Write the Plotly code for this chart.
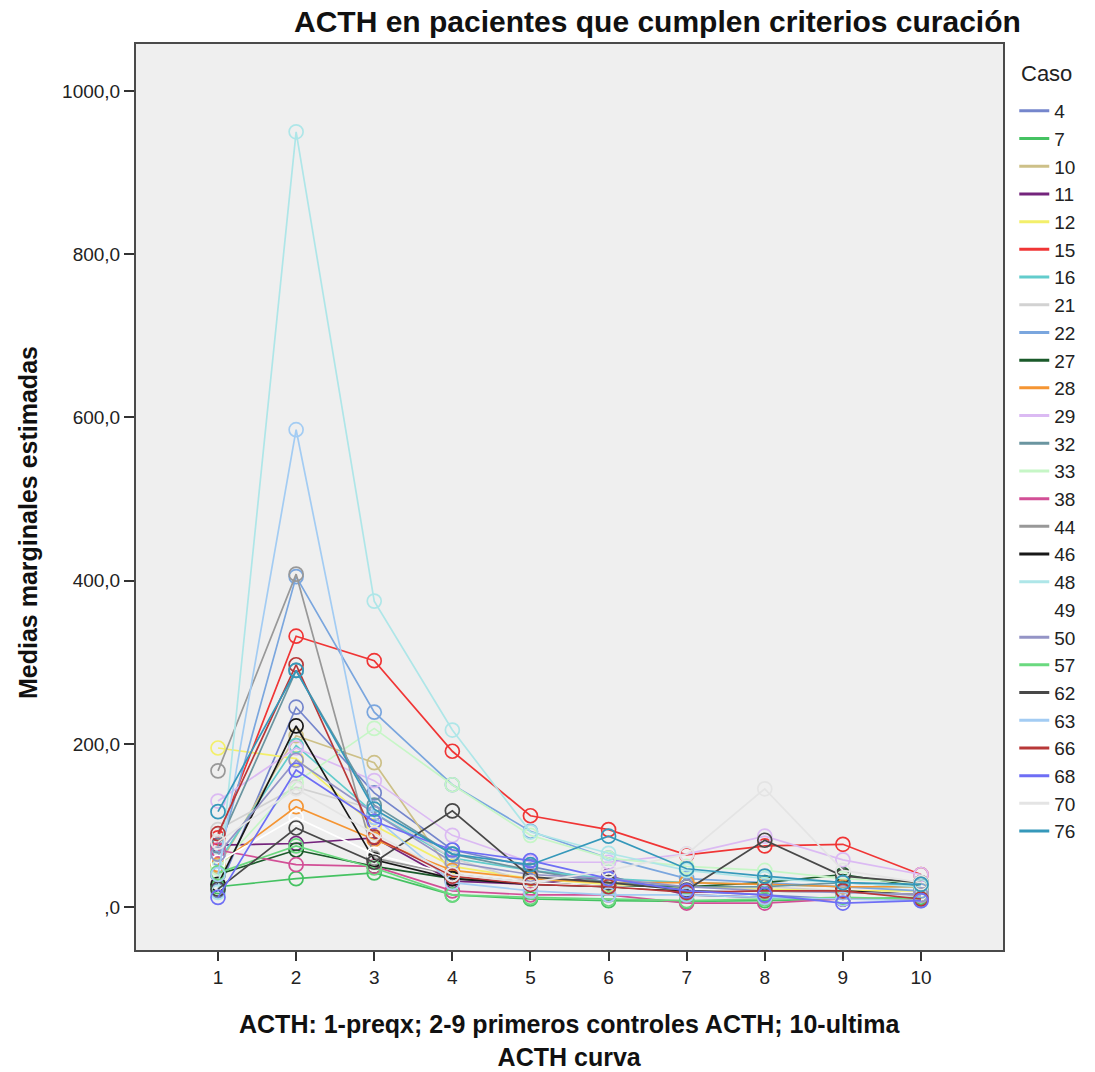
import plotly.graph_objects as go

# Measurement index on the x axis (1 = pre-surgery, 2-9 first controls, 10 = last)
puntos = [1, 2, 3, 4, 5, 6, 7, 8, 9, 10]

# Estimated marginal means of ACTH per patient (case)
caso_4 = [20, 245, 140, 70, 50, 30, 20, 15, 10, 10]
caso_7 = [25, 35, 42, 15, 10, 8, 7, 8, 10, 12]
caso_10 = [50, 210, 177, 40, 30, 25, 20, 20, 18, 15]
caso_11 = [76, 78, 85, 32, 28, 38, 15, 12, 10, 10]
caso_12 = [195, 182, 100, 50, 35, 28, 25, 22, 20, 20]
caso_15 = [85, 332, 302, 191, 112, 95, 64, 75, 77, 40]
caso_16 = [55, 198, 115, 60, 45, 35, 30, 28, 25, 25]
caso_21 = [95, 147, 120, 60, 30, 25, 20, 25, 20, 15]
caso_22 = [60, 405, 239, 150, 93, 60, 35, 30, 25, 20]
caso_27 = [40, 70, 50, 35, 30, 25, 25, 30, 40, 25]
caso_28 = [52, 123, 83, 45, 35, 30, 30, 28, 25, 25]
caso_29 = [130, 195, 155, 88, 55, 55, 65, 87, 58, 40]
caso_32 = [75, 290, 125, 65, 45, 30, 25, 25, 30, 25]
caso_33 = [48, 153, 219, 150, 88, 60, 50, 45, 35, 30]
caso_38 = [70, 52, 50, 20, 15, 15, 5, 5, 10, 10]
caso_44 = [167, 408, 60, 40, 30, 25, 20, 20, 18, 15]
caso_46 = [28, 222, 58, 35, 28, 25, 20, 20, 20, 15]
caso_48 = [18, 950, 375, 217, 92, 66, 45, 35, 30, 25]
caso_49 = [55, 110, 65, 40, 30, 25, 22, 20, 18, 15]
caso_50 = [65, 180, 115, 55, 40, 35, 25, 20, 18, 15]
caso_57 = [42, 75, 48, 15, 12, 10, 8, 10, 12, 10]
caso_62 = [22, 97, 55, 118, 37, 30, 21, 82, 38, 30]
caso_63 = [40, 585, 110, 30, 20, 15, 15, 12, 10, 8]
caso_66 = [90, 297, 86, 38, 28, 25, 18, 20, 20, 10]
caso_68 = [12, 168, 105, 70, 57, 35, 20, 15, 5, 8]
caso_70 = [80, 145, 90, 40, 30, 45, 65, 145, 45, 30]
caso_76 = [117, 290, 120, 65, 52, 87, 47, 38, 30, 28]

casos = ["4", "7", "10", "11", "12", "15", "16", "21", "22", "27", "28", "29", "32",
         "33", "38", "44", "46", "48", "49", "50", "57", "62", "63", "66", "68", "70", "76"]
valores = [caso_4, caso_7, caso_10, caso_11, caso_12, caso_15, caso_16, caso_21, caso_22,
           caso_27, caso_28, caso_29, caso_32, caso_33, caso_38, caso_44, caso_46, caso_48,
           caso_49, caso_50, caso_57, caso_62, caso_63, caso_66, caso_68, caso_70, caso_76]
colores = ["#7586cc", "#45c262", "#cdc088", "#74247c", "#f3ef6a", "#f03535", "#62cccc",
           "#d2d2d2", "#7aa6de", "#1a5a2a", "#f59533", "#dbbaf3", "#6a95a0", "#c6f6c6",
           "#d24f96", "#989898", "#181818", "#aee6e8", "#ffffff", "#9494c6", "#6ad97f",
           "#484848", "#a3ccf3", "#b83838", "#6e6ef5", "#e4e4e4", "#3598ba"]

y_ticks = [0, 200, 400, 600, 800, 1000]
y_ticktext = [",0", "200,0", "400,0", "600,0", "800,0", "1000,0"]

fig = go.Figure()

for caso, vals, col in zip(casos, valores, colores):
    # series line with open circle markers
    fig.add_trace(go.Scatter(
        x=puntos, y=vals, mode="lines+markers", name=caso,
        line=dict(color=col, width=1.7),
        marker=dict(symbol="circle-open", size=14, color=col, line=dict(width=1.7, color=col)),
        showlegend=False, legendgroup=caso,
    ))
    # legend key drawn as a thicker line only
    fig.add_trace(go.Scatter(
        x=[None], y=[None], mode="lines", name=caso,
        line=dict(color=col, width=3),
        showlegend=True, legendgroup=caso,
    ))

FONT = "Liberation Sans, Arial, sans-serif"

fig.update_layout(
    width=1095, height=1072,
    margin=dict(l=136, r=92, t=44, b=122),
    paper_bgcolor="white",
    plot_bgcolor="#efefef",
    font=dict(family=FONT, size=19, color="#222"),
    showlegend=True,
    legend=dict(
        x=1.013, xanchor="left", y=0.947, yanchor="top",
        font=dict(size=19, color="#222"),
        tracegroupgap=0,
        bgcolor="rgba(0,0,0,0)",
    ),
    xaxis=dict(
        range=[-0.05, 11.05], tickvals=puntos, ticktext=[str(p) for p in puntos],
        showgrid=False, zeroline=False,
        showline=True, mirror=True, linecolor="#4a4a4a", linewidth=2,
        ticks="outside", ticklen=9, tickwidth=2, tickcolor="#333",
        tickfont=dict(size=19, color="#222"),
    ),
    yaxis=dict(
        range=[-52.5, 1057.6], tickvals=y_ticks, ticktext=y_ticktext,
        showgrid=False, zeroline=False,
        showline=True, mirror=True, linecolor="#4a4a4a", linewidth=2,
        ticks="outside", ticklen=10, tickwidth=2, tickcolor="#333",
        tickfont=dict(size=19, color="#222"),
    ),
    annotations=[
        dict(text="<b>ACTH en pacientes que cumplen criterios curación</b>",
             xref="paper", yref="paper", x=0.601, y=1.0, yshift=23,
             xanchor="center", yanchor="middle", showarrow=False,
             font=dict(family=FONT, size=30, color="#111")),
        dict(text="<b>Medias marginales estimadas</b>",
             xref="paper", yref="paper", x=0, xshift=-108, y=0.5, yshift=-26,
             xanchor="center", yanchor="middle", textangle=-90, showarrow=False,
             font=dict(family=FONT, size=25, color="#111")),
        dict(text="<b>ACTH: 1-preqx; 2-9 primeros controles ACTH; 10-ultima<br>ACTH curva</b>",
             xref="paper", yref="paper", x=0.5, y=0, yshift=-90,
             xanchor="center", yanchor="middle", showarrow=False,
             font=dict(family=FONT, size=25, color="#111")),
        dict(text="Caso",
             xref="paper", yref="paper", x=1.0, xshift=16, y=1.0, yshift=-29,
             xanchor="left", yanchor="middle", showarrow=False,
             font=dict(family=FONT, size=22, color="#222")),
    ],
)

fig.write_html("out.html")
